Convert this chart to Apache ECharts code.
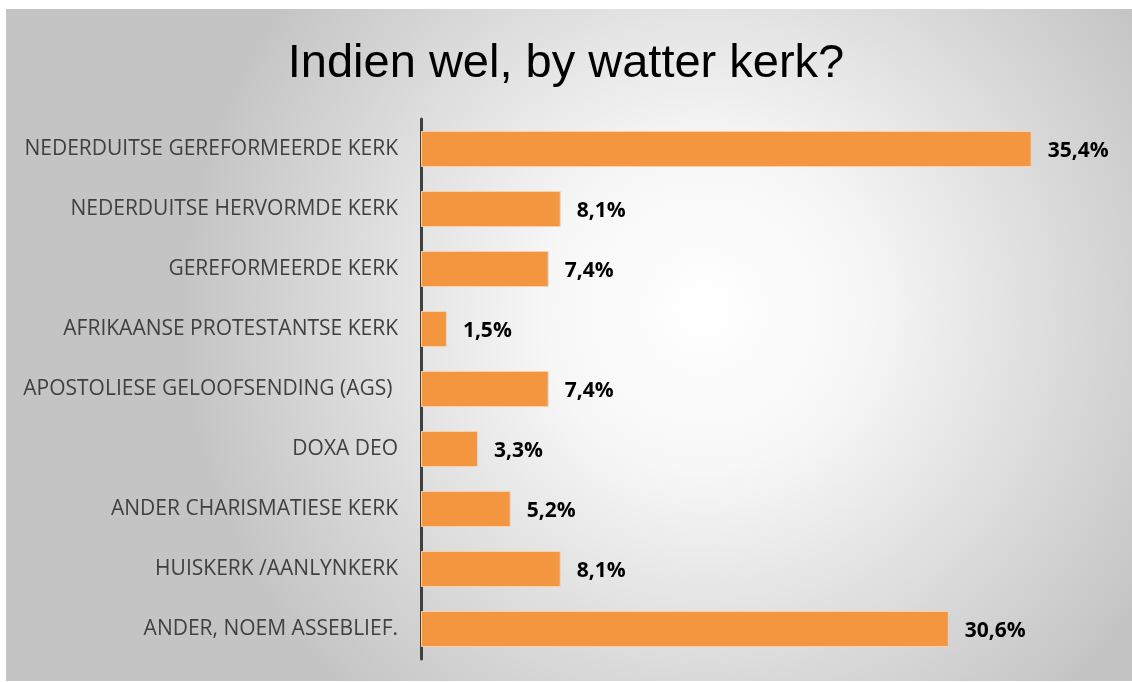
<!DOCTYPE html>
<html>
<head>
<meta charset="utf-8">
<script src="https://cdn.jsdelivr.net/npm/echarts@6/dist/echarts.min.js"></script>
<style>
  html, body { margin: 0; padding: 0; background: #fff; }
  #chart { width: 1132px; height: 682px; }
</style>
</head>
<body>
<div id="chart"></div>
<script>
// categories top to bottom
var kerke = [
    'NEDERDUITSE GEREFORMEERDE KERK',
    'NEDERDUITSE HERVORMDE KERK',
    'GEREFORMEERDE KERK',
    'AFRIKAANSE PROTESTANTSE KERK',
    'APOSTOLIESE GELOOFSENDING (AGS) ',
    'DOXA DEO',
    'ANDER CHARISMATIESE KERK',
    'HUISKERK /AANLYNKERK',
    'ANDER, NOEM ASSEBLIEF.'
]
var persentasie = [35.4, 8.1, 7.4, 1.5, 7.4, 3.3, 5.2, 8.1, 30.6]

var chart = echarts.init(document.getElementById('chart'))

var option = {
    animation: false,
    graphic: [
        {
            type: 'rect',
            z: -10,
            shape: { x: 6, y: 9, width: 1126, height: 672 },
            style: {
                fill: new echarts.graphic.RadialGradient(0.62, 0.45, 0.78, [
                    { offset: 0, color: '#ffffff' },
                    { offset: 0.3, color: '#f7f7f7' },
                    { offset: 1, color: '#c4c4c4' }
                ])
            }
        }
    ],
    title: {
        text: 'Indien wel, by watter kerk?',
        left: 'center',
        top: 36,
        textStyle: {
            fontFamily: 'Liberation Sans',
            fontSize: 47,
            fontWeight: 'normal',
            color: '#000'
        }
    },
    grid: {
        left: 421,
        right: 21,
        top: 119,
        bottom: 23
    },
    xAxis: {
        type: 'value',
        min: 0,
        max: 40,
        show: false
    },
    yAxis: {
        type: 'category',
        inverse: true,
        data: kerke,
        axisTick: { show: false },
        axisLine: { lineStyle: { color: '#404040', width: 3 } },
        axisLabel: {
            margin: 23,
            padding: [4, 0, 0, 0],
            fontFamily: 'Open Sans',
            fontSize: 21,
            color: '#404040'
        }
    },
    series: [
        {
            type: 'bar',
            data: persentasie,
            barWidth: 36,
            itemStyle: {
                color: '#f4963f',
                borderColor: '#fbd0a8',
                borderWidth: 1
            },
            label: {
                show: true,
                position: 'right',
                distance: 16,
                offset: [0, 2],
                fontFamily: 'Open Sans',
                fontWeight: 'bold',
                fontSize: 21,
                color: '#000',
                formatter: function (p) {
                    return p.value.toFixed(1).replace('.', ',') + '%'
                }
            }
        }
    ]
};
chart.setOption(option)
</script>
</body>
</html>
